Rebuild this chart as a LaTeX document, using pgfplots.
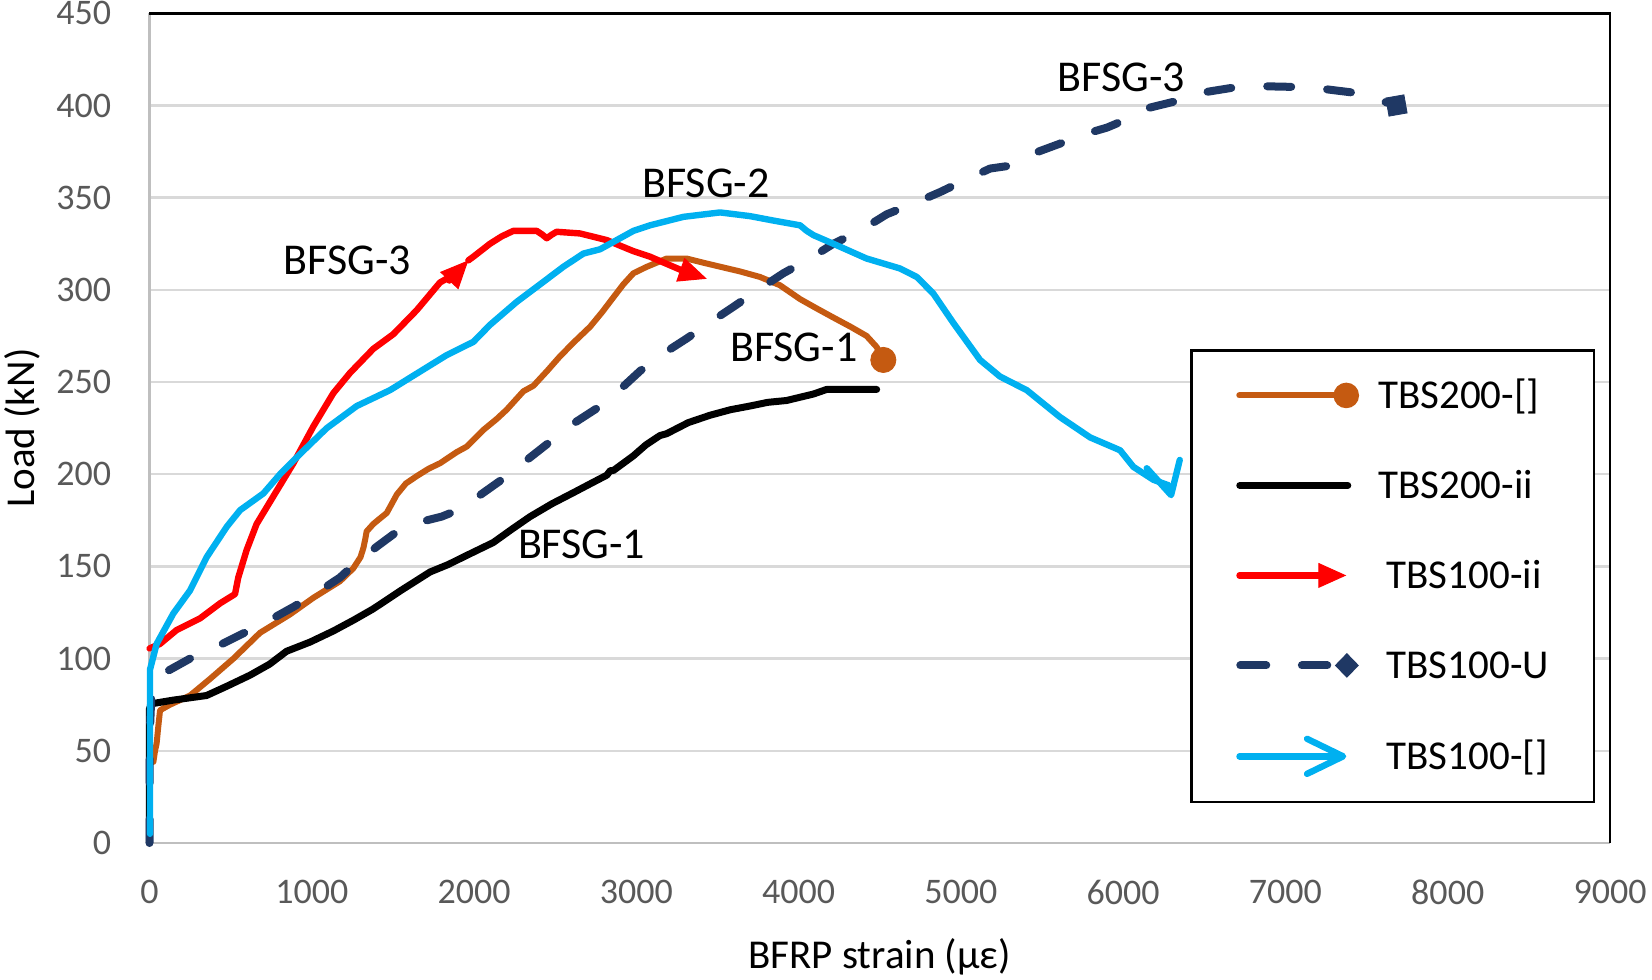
\documentclass[border=0pt]{standalone}
\usepackage{fontspec}
\setmainfont{Carlito}
\usepackage{pgfplots}
\pgfplotsset{compat=1.18}
\usetikzlibrary{arrows.meta}
\definecolor{orangeC}{HTML}{C55A11}
\definecolor{navyC}{HTML}{1F3864}
\definecolor{cyanC}{HTML}{00B0F0}
\definecolor{redC}{HTML}{FF0000}
\definecolor{gridC}{HTML}{D9D9D9}
\definecolor{axisC}{HTML}{BFBFBF}
\definecolor{tickC}{HTML}{595959}
\begin{document}
\begin{tikzpicture}
\useasboundingbox (-74.75pt,-68pt) rectangle (751.25pt,421.5pt);
\begin{axis}[
  at={(0pt,0pt)}, anchor=south west,
  scale only axis, width=730.25pt, height=414.85pt,
  xmin=0, xmax=9000, ymin=0, ymax=450,
  xtick={0,1000,...,9000}, ytick={0,50,...,450},
  major tick length=0pt,
  axis line style={draw=none},
  ymajorgrids, major grid style={draw=gridC, line width=1.2pt},
  clip=false,
  /pgf/number format/assume math mode=true,
  /pgf/number format/1000 sep={},
  xticklabel style={font=\fontsize{18}{20}\selectfont, text=tickC, anchor=north, inner sep=0pt, yshift=-18.2pt},
  yticklabel style={font=\fontsize{18}{20}\selectfont, text=tickC, anchor=east, inner sep=0pt, xshift=-19pt},
  xlabel={BFRP strain (με)}, ylabel={Load (kN)},
  every axis x label/.style={at={(axis description cs:0.5,-0.137)}, anchor=center, font=\fontsize{20.5}{24}\selectfont},
  every axis y label/.style={at={(axis description cs:-0.087,0.5)}, rotate=90, anchor=center, font=\fontsize{20.5}{24}\selectfont},
  legend style={at={(axis description cs:0.7124,0.595)}, anchor=north west, draw=black, line width=1.3pt,
    inner xsep=22.5pt, inner ysep=12.5pt, row sep=25.2pt, font=\fontsize{20.5}{24}\selectfont,
    cells={anchor=west}, nodes={inner sep=0pt, text height=16.5pt, text depth=3.3pt},
    /tikz/every odd column/.append style={column sep=9pt}},
]
\draw[axisC, line width=1.1pt] (rel axis cs:0,1) -- (rel axis cs:0,0) -- (rel axis cs:1,0);

% TBS200-[]
\addplot[orangeC, line width=3pt, line join=round, line cap=round,
  legend image code/.code={
    \path[draw=none,fill=none] (0pt,-9.5pt) rectangle (62pt,9.5pt);
    \draw[orangeC,solid,-,line width=3pt,line cap=round] (1.5pt,0pt) -- (55pt,0pt);
    \path[fill=orangeC,draw=none] (55pt,0pt) circle (6.4pt);
  }] coordinates {
(12,44) (24,44) (34,50) (44,54) (54,63) (65,72) (126,75) (250,80) (373,89) (517,100)
(681,114) (866,124) (1010,133) (1174,142) (1256,149) (1300,155) (1318,160) (1330,165)
(1338,169) (1379,173) (1420,176) (1462,179) (1524,189) (1580,195) (1647,199) (1720,203)
(1791,206) (1893,212) (1955,215) (2057,224) (2140,230) (2201,235) (2304,245) (2366,248)
(2450,256) (2530,264) (2620,272) (2715,280) (2790,288) (2859,296) (2920,303) (2982,309)
(3064,312.5) (3187,317) (3310,317) (3400,315) (3495,313) (3639,310) (3762,307)
(3885,302.5) (4009,295) (4110,290) (4214,285) (4320,280) (4419,275) (4481,269) (4522,262)
};
\addlegendentry{TBS200-[]}
\addplot[forget plot, only marks, mark=*, mark size=6.3pt, color=orangeC] coordinates {(4522,262)};

% TBS200-ii
\addplot[black, line width=3.5pt, line join=round, line cap=round,
  legend image code/.code={
    \path[draw=none,fill=none] (0pt,-9.5pt) rectangle (62pt,9.5pt);
    \draw[black,solid,-,line width=3.5pt,line cap=round] (1.75pt,0pt) -- (55.75pt,0pt);
  }] coordinates {
(0,0) (0,73) (24,75.7) (147,77.5) (352,80) (476,85) (619,91) (740,97) (845,104) (990,109)
(1133,115) (1260,121) (1379,127) (1550,137) (1729,147) (1840,151) (1955,156) (2119,163)
(2230,170) (2345,177) (2480,184) (2612,190) (2720,195) (2818,199.5) (2840,202) (2858,202)
(2920,206) (2982,210) (3060,216) (3146,221) (3187,222) (3320,228) (3454,232) (3580,235)
(3700,237) (3810,239) (3926,240) (4020,242) (4091,243.5) (4173,246) (4300,246) (4481,246)
};
\addlegendentry{TBS200-ii}

% TBS100-ii
\addplot[redC, line width=3.2pt, line join=round, line cap=round,
  -{Triangle[length=14pt,width=12.5pt,line width=0.5pt]},
  legend image code/.code={
    \path[draw=none,fill=none] (0pt,-9.5pt) rectangle (62pt,9.5pt);
    \draw[redC,solid,line width=3.2pt,line cap=round,-{Triangle[length=14pt,width=12.5pt,line width=0.5pt]}] (1.6pt,0pt) -- (55pt,0pt);
  }] coordinates {
(0,105.5) (65,108) (167,115.5) (311,121.8) (435,130) (527,135) (547,144) (599,159)
(660,173) (763,188) (887,206) (1010,226) (1133,244) (1236,255) (1379,268) (1503,276)
(1647,289) (1790,304) (1890,309) (1965,316)
};
\addlegendentry{\hspace{4.2pt}TBS100-ii}
\addplot[forget plot, redC, line width=3.2pt, line join=round, line cap=round,
  -{Triangle[length=14pt,width=12.5pt,line width=0.5pt]}] coordinates {
(1965,316) (1996,318) (2098,325) (2170,329) (2242,332) (2386,332) (2420,330) (2448,328)
(2480,330) (2509,331.5) (2653,330.6) (2818,327) (2899,324) (2982,321) (3084,318)
(3269,311) (3434,306)
};

% TBS100-U
\addplot[navyC, line width=4pt, line join=round, line cap=round, dash pattern=on 12pt off 18pt,
  legend image code/.code={
    \path[draw=none,fill=none] (0pt,-9.5pt) rectangle (62pt,9.5pt);
    \draw[navyC,solid,-,line width=4pt,line cap=round] (2pt,0pt) -- (15pt,0pt);
    \draw[navyC,solid,-,line width=4pt,line cap=round] (32.8pt,0pt) -- (45.5pt,0pt);
    \path[fill=navyC,draw=none] (49.3pt,0pt) -- (55.3pt,6.2pt) -- (61.3pt,0pt) -- (55.3pt,-6.2pt) -- cycle;
  }] coordinates {
(0,0) (2,60) (13,83) (60,90) (106,93) (270,101) (414,106.5) (578,113.7) (702,119) (886,128)
(1010,134.5) (1174,144) (1256,150.7) (1400,160.7) (1524,168.8) (1620,172) (1709,175)
(1800,177) (1873,179.6) (1950,184) (2037,188.7) (2181,197.7) (2325,207.7) (2468,217.6)
(2612,227.5) (2756,235.7) (2900,246) (3023,256) (3167,265.5) (3310,273.6) (3475,283.6)
(3598,290.8) (3762,300.7) (3906,309) (4070,317) (4214,325) (4378,332) (4543,341)
(4707,346.8) (4871,353) (5036,360) (5180,365.8) (5323,367.6) (5447,374) (5632,380)
(5776,384.8) (5900,388) (5981,391) (6125,398) (6310,402) (6474,406.8) (6679,409.7)
(6884,410.4) (7089,410) (7232,409) (7417,407) (7582,402.8) (7684,400)
};
\addlegendentry{\hspace{4.2pt}TBS100-U}
\addplot[forget plot, only marks, mark=square*, mark size=4.6pt, color=navyC, mark options={rotate=10}] coordinates {(7684,400)};

% TBS100-[]
\addplot[cyanC, line width=3.2pt, line join=round, line cap=round,
  -{Straight Barb[length=16pt,width=17pt,round]},
  legend image code/.code={
    \path[draw=none,fill=none] (0pt,-9.5pt) rectangle (62pt,9.5pt);
    \draw[cyanC,solid,line width=3.2pt,line cap=round,-{Straight Barb[length=18pt,width=17.5pt,round]}] (1.6pt,0pt) -- (55pt,0pt);
  }] coordinates {
(3,5) (3,94) (44,108) (147,124.5) (250,137) (352,155) (476,171.5) (558,180.5) (702,189.6)
(804,200) (928,211) (1092,225) (1277,237) (1482,245.6) (1647,254.6) (1831,264.6)
(1996,271.8) (2098,281) (2263,293.5) (2407,303) (2550,312.5) (2674,319.7) (2776,322)
(2879,327) (2982,332) (3084,335) (3290,339.6) (3516,342) (3700,340) (3850,337.5)
(4009,335) (4050,332) (4091,329.7) (4214,325) (4419,317) (4625,311.6) (4728,307)
(4830,298) (4954,282) (5118,262) (5241,253) (5406,245.6) (5611,231) (5796,220)
(5981,213) (6063,204) (6186,197) (6280,194) (6300,187)
};
\addlegendentry{\hspace{4.2pt}TBS100-[]}

\draw[black, line width=1.3pt] (rel axis cs:0,1) -- (rel axis cs:1,1) -- (rel axis cs:1,0);

\node[font=\fontsize{22}{26}\selectfont] at (axis cs:1220,316) {BFSG-3};
\node[font=\fontsize{22}{26}\selectfont] at (axis cs:3429,357.7) {BFSG-2};
\node[font=\fontsize{22}{26}\selectfont] at (axis cs:3970,268.8) {BFSG-1};
\node[font=\fontsize{22}{26}\selectfont] at (axis cs:2663,162) {BFSG-1};
\node[font=\fontsize{22}{26}\selectfont] at (axis cs:5989,415.5) {BFSG-3};
\end{axis}
\end{tikzpicture}
\end{document}
